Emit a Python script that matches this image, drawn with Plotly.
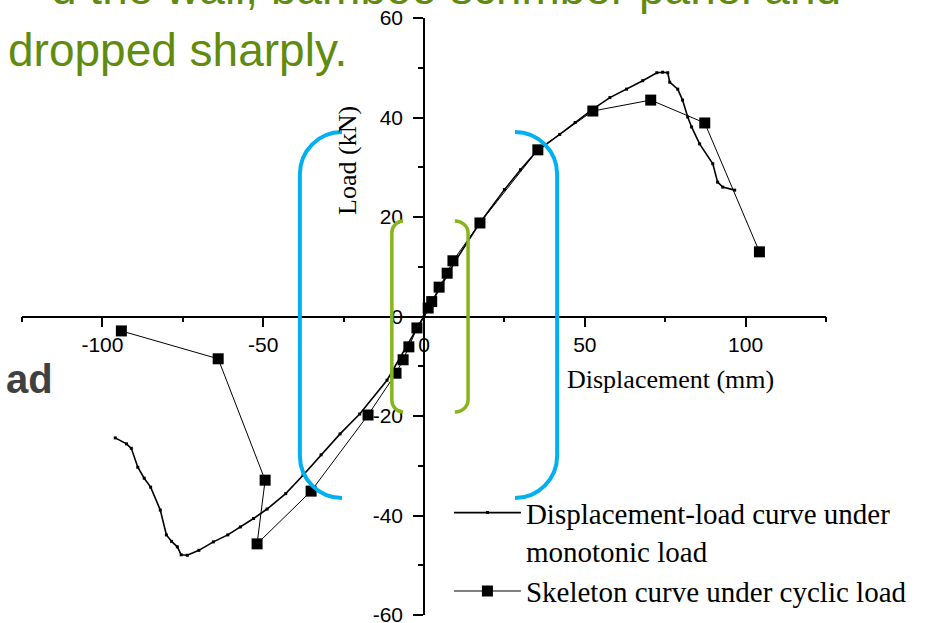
import plotly.graph_objects as go

# ---------------- data ----------------
mono_x = [-96.0, -92.5, -91.0, -89.0, -87.0, -85.0, -82.0, -80.1, -78.5, -76.7, -75.5, -73.6,
          -70.0, -65.5, -61.0, -57.1, -53.0, -48.8, -43.0, -37.6, -32.0, -26.1, -20.0, -11.5,
          -5.0, 0.0, 5.0, 10.0, 17.0, 25.0, 30.0, 35.0, 42.2, 47.0, 52.5, 57.8, 63.0, 68.0,
          72.4, 74.2, 75.8, 76.4, 78.9, 80.4, 82.0, 83.2, 85.7, 89.8, 91.3, 92.9, 96.6]
mono_y = [-24.4, -25.6, -26.5, -30.3, -32.5, -34.3, -38.9, -43.9, -45.2, -46.3, -47.9, -48.0,
          -47.0, -45.3, -43.9, -42.3, -40.6, -38.7, -35.6, -31.9, -27.8, -23.6, -19.6, -12.8,
          -5.5, 0.0, 5.8, 11.4, 18.5, 25.5, 29.5, 33.2, 36.6, 39.0, 41.7, 44.0, 45.7, 47.4,
          49.0, 49.1, 49.0, 47.1, 45.7, 43.5, 40.1, 38.1, 34.7, 30.7, 27.0, 26.0, 25.4]

skel_x = [-94.1, -64.0, -49.4, -51.9, -35.1, -17.4, -8.7, -6.5, -4.7, -2.2,
          1.3, 2.4, 4.7, 7.2, 9.0, 17.4, 35.4, 52.5, 70.5, 87.3, 104.3]
skel_y = [-2.9, -8.5, -32.9, -45.7, -35.1, -19.8, -11.4, -8.7, -6.1, -2.3,
          1.7, 3.0, 5.9, 8.7, 11.2, 18.8, 33.5, 41.3, 43.5, 38.9, 13.0]

x_ticks = [-100, -50, 0, 50, 100]
y_ticks = [-60, -40, -20, 0, 20, 40, 60]

name_mono = "Displacement-load curve under<br>monotonic load"
name_skel = "Skeleton curve under cyclic load"

# ---------------- figure ----------------
fig = go.Figure()
fig.add_trace(go.Scatter(
    x=mono_x, y=mono_y, name=name_mono, mode="lines+markers",
    line=dict(color="black", width=1.6),
    marker=dict(symbol="square", size=3, color="black"),
))
fig.add_trace(go.Scatter(
    x=skel_x, y=skel_y, name=name_skel, mode="lines+markers",
    line=dict(color="black", width=1),
    marker=dict(symbol="square", size=11, color="black"),
))


def bracket(x_end, x_vert, y_top, y_bot, ry, k=0.552):
    dx = x_vert - x_end
    return (f"M {x_end},{y_top} C {x_end + k*dx},{y_top} {x_vert},{y_top - (1-k)*ry} {x_vert},{y_top - ry} "
            f"L {x_vert},{y_bot + ry} C {x_vert},{y_bot + (1-k)*ry} {x_end + k*dx},{y_bot} {x_end},{y_bot}")


BLUE = "#00B0F0"
GREEN = "#86B51C"
shapes = [
    dict(type="path", xref="x", yref="y", layer="above", line=dict(color=BLUE, width=4),
         path=bracket(-25.5, -38.6, 37.1, -36.5, 8.5)),
    dict(type="path", xref="x", yref="y", layer="above", line=dict(color=BLUE, width=4),
         path=bracket(28.3, 41.4, 37.1, -36.5, 8.5)),
    dict(type="path", xref="x", yref="y", layer="above", line=dict(color=GREEN, width=3.5),
         path=bracket(-6.5, -10.0, 19.2, -19.2, 2.4)),
    dict(type="path", xref="x", yref="y", layer="above", line=dict(color=GREEN, width=3.5),
         path=bracket(9.6, 13.7, 19.2, -19.2, 2.4)),
]

TEXT_GREEN = "#618B0E"
annotations = [
    dict(text="d the wall, bamboo scrimber panel and", xref="paper", yref="paper",
         x=1.021, y=1.051, xanchor="right", yanchor="middle", showarrow=False,
         font=dict(family="Liberation Sans, Arial", size=46, color=TEXT_GREEN)),
    dict(text="dropped sharply.", xref="paper", yref="paper",
         x=-0.020, y=0.946, xanchor="left", yanchor="middle", showarrow=False,
         font=dict(family="Liberation Sans, Arial", size=46, color=TEXT_GREEN)),
    dict(text="<b>ad</b>", xref="paper", yref="paper",
         x=0.041, y=0.395, xanchor="right", yanchor="middle", showarrow=False,
         font=dict(family="Liberation Sans, Arial", size=40, color="#404040")),
    dict(text="Load (kN)", xref="paper", yref="paper", textangle=-90,
         x=0.404, y=0.762, xanchor="center", yanchor="middle", showarrow=False,
         font=dict(family="Liberation Serif, Times New Roman", size=26, color="black")),
    dict(text="Displacement (mm)", xref="paper", yref="paper",
         x=0.806, y=0.395, xanchor="center", yanchor="middle", showarrow=False,
         font=dict(family="Liberation Serif, Times New Roman", size=26, color="black")),
]

axis_font = dict(family="Liberation Sans, Arial", size=21, color="black")
fig.update_layout(
    width=926, height=623,
    margin=dict(l=22, r=100, t=18, b=8, autoexpand=False),
    paper_bgcolor="white", plot_bgcolor="white",
    showlegend=True,
    legend=dict(x=0.531, y=0.214, xanchor="left", yanchor="top",
                bgcolor="rgba(0,0,0,0)", itemwidth=67, valign="top",
                font=dict(family="Liberation Serif, Times New Roman", size=29, color="black"),
                tracegroupgap=0),
    xaxis=dict(range=[-125, 125], anchor="free", position=0.5, automargin=False,
               showline=True, linecolor="black", linewidth=1.5,
               showgrid=False, zeroline=False, ticklabeloverflow="allow",
               ticks="outside", ticklen=10, tickwidth=1.5, tickcolor="black",
               tickvals=x_ticks, ticktext=[str(v) for v in x_ticks], tickfont=axis_font,
               minor=dict(dtick=25, tick0=0, ticks="outside", ticklen=5, tickwidth=1.5, tickcolor="black")),
    yaxis=dict(range=[-60, 60], anchor="free", position=0.5, automargin=False,
               showline=True, linecolor="black", linewidth=1.5,
               showgrid=False, zeroline=False, ticklabelstandoff=6, ticklabeloverflow="allow",
               ticks="outside", ticklen=10, tickwidth=1.5, tickcolor="black",
               tickvals=y_ticks, ticktext=[str(v) for v in y_ticks], tickfont=axis_font,
               minor=dict(dtick=10, tick0=0, ticks="outside", ticklen=5, tickwidth=1.5, tickcolor="black")),
    shapes=shapes,
    annotations=annotations,
)

# remove the browser's default 8px body margin so the figure fills the window
fig.write_html("out.html", config={"displayModeBar": False},
               post_script="document.body.style.margin='0';")
